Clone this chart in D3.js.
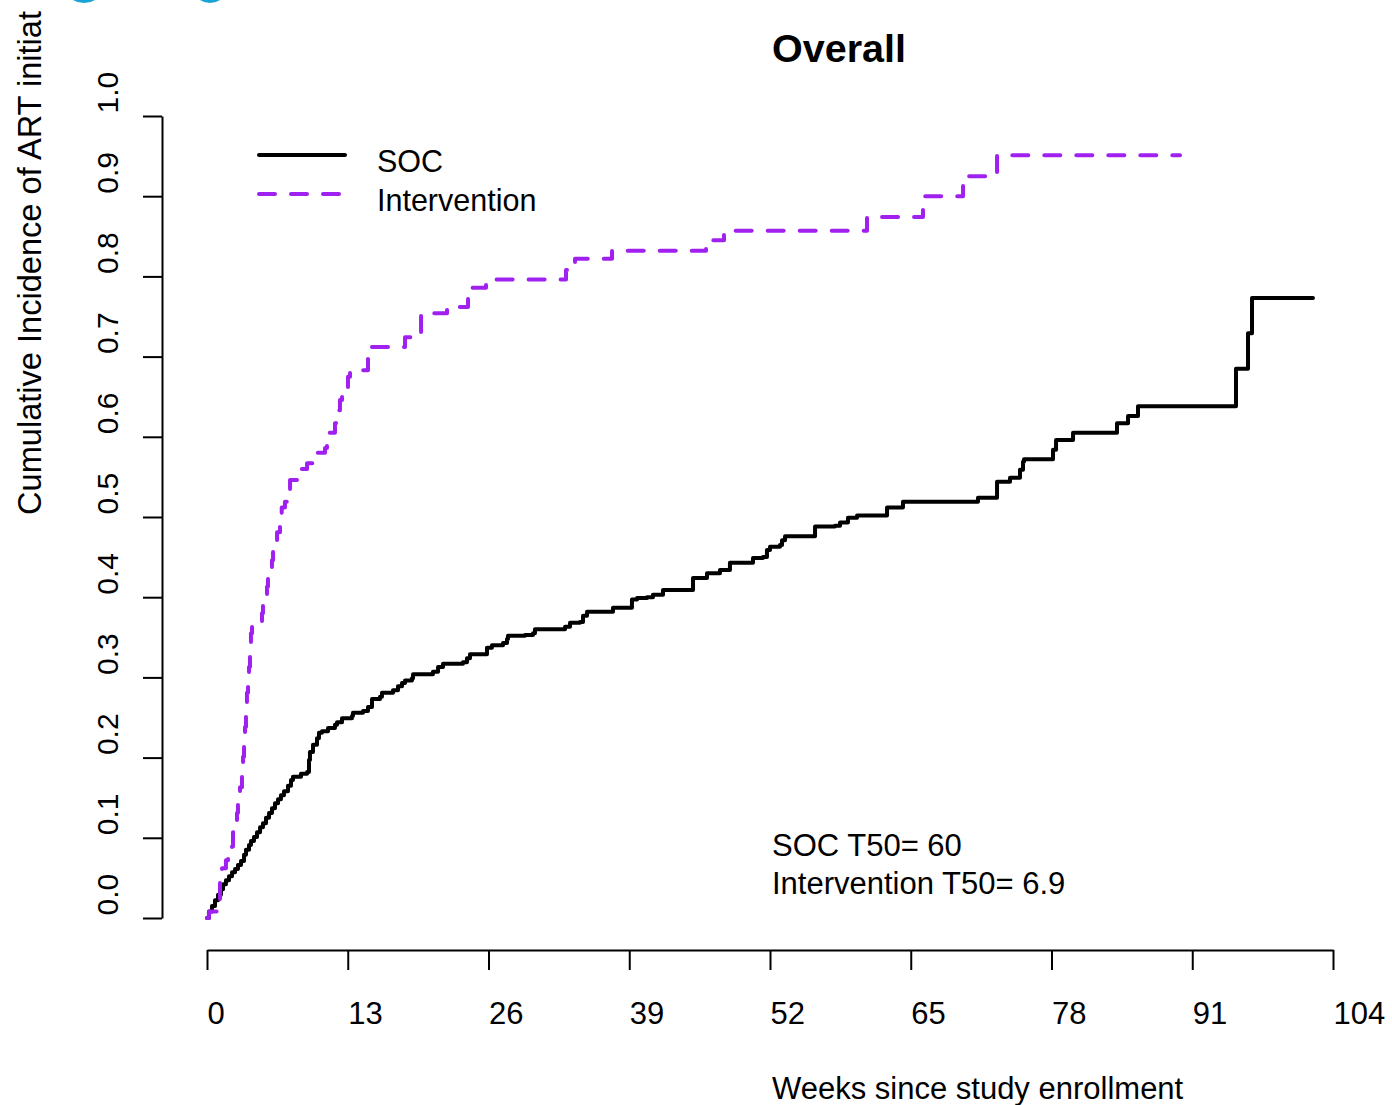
<!DOCTYPE html>
<html>
<head>
<meta charset="utf-8">
<script src="https://cdn.jsdelivr.net/npm/d3@7"></script>
<style>
  html, body { margin: 0; padding: 0; background: #fff; }
  svg { display: block; }
  text { font-family: "Liberation Sans", Arial, sans-serif; fill: #000; }
</style>
</head>
<body>
<svg id="chart" width="1392" height="1105"></svg>
<script>
// Cumulative incidence of ART initiation by arm (step functions)
const socWeeks = [0, 0.18, 0.46, 0.74, 1.02, 1.29, 1.48, 1.75, 2.03, 2.31, 2.59, 2.86, 3.14, 3.42, 3.60, 3.88, 4.06, 4.34, 4.62, 4.90, 5.17, 5.45, 5.73, 6.00, 6.28, 6.56, 6.83, 7.11, 7.48, 7.76, 7.94, 8.68, 9.24, 9.42, 9.51, 9.79, 10.16, 10.34, 10.62, 11.18, 11.82, 12.01, 12.47, 13.39, 13.48, 14.41, 14.87, 15.24, 15.98, 16.16, 17.18, 17.64, 18.01, 18.29, 18.93, 19.03, 20.87, 21.34, 21.80, 23.64, 24.01, 24.29, 25.86, 26.32, 27.34, 27.71, 27.80, 29.37, 30.11, 30.29, 33.07, 33.53, 34.45, 34.73, 35.10, 37.50, 39.25, 39.72, 40.64, 41.19, 42.12, 44.89, 46.18, 47.38, 48.30, 50.43, 51.35, 51.72, 52.00, 52.92, 53.11, 53.39, 56.16, 58.00, 58.47, 59.20, 60.04, 62.81, 64.28, 71.21, 72.97, 74.17, 75.09, 75.37, 75.46, 78.14, 78.42, 79.99, 84.05, 85.07, 85.99, 95.04, 96.15, 96.52, 102.15];
const socCum = [0, 0.008, 0.015, 0.022, 0.029, 0.036, 0.042, 0.047, 0.052, 0.057, 0.061, 0.066, 0.071, 0.079, 0.085, 0.091, 0.096, 0.101, 0.107, 0.113, 0.118, 0.125, 0.131, 0.137, 0.143, 0.148, 0.153, 0.158, 0.165, 0.172, 0.176, 0.180, 0.182, 0.197, 0.207, 0.216, 0.224, 0.231, 0.233, 0.237, 0.241, 0.244, 0.249, 0.252, 0.256, 0.258, 0.263, 0.273, 0.276, 0.281, 0.284, 0.289, 0.293, 0.296, 0.299, 0.304, 0.307, 0.313, 0.317, 0.319, 0.324, 0.329, 0.337, 0.340, 0.343, 0.348, 0.352, 0.353, 0.355, 0.360, 0.363, 0.368, 0.369, 0.377, 0.382, 0.387, 0.397, 0.399, 0.400, 0.403, 0.409, 0.424, 0.430, 0.434, 0.443, 0.449, 0.450, 0.459, 0.463, 0.465, 0.471, 0.476, 0.488, 0.489, 0.493, 0.499, 0.502, 0.512, 0.519, 0.524, 0.544, 0.549, 0.559, 0.569, 0.572, 0.584, 0.596, 0.605, 0.617, 0.626, 0.638, 0.685, 0.729, 0.773, 0.773];

const intWeeks = [0, 0.18, 0.92, 1.02, 1.20, 1.39, 1.75, 1.94, 2.31, 2.40, 2.68, 2.77, 2.86, 3.05, 3.23, 3.33, 3.42, 3.51, 3.60, 3.69, 3.79, 3.88, 3.97, 4.06, 4.16, 4.25, 5.08, 5.17, 5.36, 5.54, 5.63, 6.00, 6.10, 6.28, 6.47, 6.74, 6.90, 7.20, 7.48, 7.67, 8.31, 9.24, 9.98, 10.07, 10.90, 11.08, 11.82, 11.91, 12.28, 12.47, 12.56, 13.02, 13.21, 14.87, 15.06, 18.29, 19.77, 22.17, 24.11, 24.48, 25.77, 33.16, 33.99, 37.41, 46.09, 46.46, 47.75, 60.96, 66.13, 69.83, 72.97, 89.87];
const intCum = [0, 0.008, 0.016, 0.022, 0.045, 0.062, 0.072, 0.077, 0.089, 0.107, 0.122, 0.131, 0.143, 0.163, 0.176, 0.201, 0.222, 0.238, 0.256, 0.281, 0.293, 0.313, 0.334, 0.355, 0.363, 0.369, 0.380, 0.393, 0.403, 0.413, 0.431, 0.446, 0.463, 0.471, 0.481, 0.490, 0.512, 0.519, 0.527, 0.546, 0.560, 0.567, 0.575, 0.580, 0.586, 0.605, 0.617, 0.633, 0.646, 0.655, 0.658, 0.675, 0.683, 0.704, 0.712, 0.724, 0.754, 0.762, 0.774, 0.786, 0.796, 0.808, 0.822, 0.832, 0.837, 0.845, 0.857, 0.874, 0.900, 0.925, 0.951, 0.951];

const xTicks = [0, 13, 26, 39, 52, 65, 78, 91, 104];
const yTicks = [0, 0.1, 0.2, 0.3, 0.4, 0.5, 0.6, 0.7, 0.8, 0.9, 1.0];
const seriesNames = ["SOC", "Intervention"];
const t50Labels = ["SOC T50= 60", "Intervention T50= 6.9"];

const svg = d3.select("#chart");
const x = d3.scaleLinear().domain([0, 104]).range([207, 1333]);
const y = d3.scaleLinear().domain([0, 1]).range([918, 116]);

// decorative cyan marks along the top edge
svg.append("ellipse").attr("cx", 84).attr("cy", -17).attr("rx", 19).attr("ry", 18)
  .attr("fill", "none").attr("stroke", "#1ba3d6").attr("stroke-width", 4);
svg.append("ellipse").attr("cx", 210).attr("cy", -17).attr("rx", 17).attr("ry", 18)
  .attr("fill", "none").attr("stroke", "#1ba3d6").attr("stroke-width", 4);

// x axis
const xAxis = svg.append("g").attr("transform", "translate(0,950)")
  .call(d3.axisBottom(x).tickValues(xTicks).tickFormat(d3.format("d")).tickSize(20).tickSizeOuter(0));
xAxis.select(".domain").attr("stroke-width", 2);
xAxis.selectAll(".tick line").attr("stroke-width", 2);
xAxis.selectAll(".tick text")
  .attr("y", 74).attr("dy", null).attr("x", 0)
  .attr("text-anchor", "start")
  .style("font-size", "31px").style("font-family", "Liberation Sans, Arial, sans-serif").attr("fill", "#000");

// y axis
const yAxis = svg.append("g").attr("transform", "translate(162,0)")
  .call(d3.axisLeft(y).tickValues(yTicks).tickFormat(d3.format(".1f")).tickSize(19).tickSizeOuter(0));
yAxis.select(".domain").attr("stroke-width", 2);
yAxis.selectAll(".tick line").attr("stroke-width", 2);
yAxis.selectAll(".tick text")
  .attr("x", 0).attr("y", 0).attr("dy", null)
  .attr("transform", "translate(-44,-3) rotate(-90)")
  .attr("text-anchor", "start")
  .style("font-size", "30px").style("font-family", "Liberation Sans, Arial, sans-serif").attr("fill", "#000");

// axis titles
svg.append("text")
  .attr("transform", "translate(41,515) rotate(-90)")
  .attr("text-anchor", "start")
  .style("font-size", "32.6px")
  .text("Cumulative Incidence of ART initiat");
svg.append("text").attr("x", 772).attr("y", 1099)
  .style("font-size", "31px").text("Weeks since study enrollment");

// title
svg.append("text").attr("x", 772).attr("y", 62)
  .style("font-size", "39.5px").style("font-weight", "bold").text("Overall");

// curves
const line = d3.line().x(d => x(d[0])).y(d => y(d[1])).curve(d3.curveStepAfter);
const socData = socWeeks.map((w, i) => [w, socCum[i]]);
const intData = intWeeks.map((w, i) => [w, intCum[i]]);

svg.append("path").datum(socData).attr("d", line)
  .attr("fill", "none").attr("stroke", "#000").attr("stroke-width", 4)
  .attr("stroke-linecap", "round").attr("stroke-linejoin", "round");
svg.append("path").datum(intData).attr("d", line)
  .attr("fill", "none").attr("stroke", "#A020F0").attr("stroke-width", 4)
  .attr("stroke-dasharray", "16 16")
  .attr("stroke-linecap", "round").attr("stroke-linejoin", "round");

// legend
const legend = svg.append("g");
legend.append("line").attr("x1", 259).attr("x2", 345).attr("y1", 155).attr("y2", 155)
  .attr("stroke", "#000").attr("stroke-width", 4).attr("stroke-linecap", "round");
legend.append("line").attr("x1", 259).attr("x2", 345).attr("y1", 194).attr("y2", 194)
  .attr("stroke", "#A020F0").attr("stroke-width", 4).attr("stroke-dasharray", "16 16")
  .attr("stroke-linecap", "round");
legend.selectAll("text.lab").data(seriesNames).enter().append("text")
  .attr("class", "lab")
  .attr("x", 377).attr("y", (d, i) => 172 + i * 39)
  .style("font-size", "30.5px").text(d => d);

// median time annotations
svg.selectAll("text.t50").data(t50Labels).enter().append("text")
  .attr("class", "t50")
  .attr("x", 772).attr("y", (d, i) => 856 + i * 38)
  .style("font-size", "31px").text(d => d);
</script>
</body>
</html>
